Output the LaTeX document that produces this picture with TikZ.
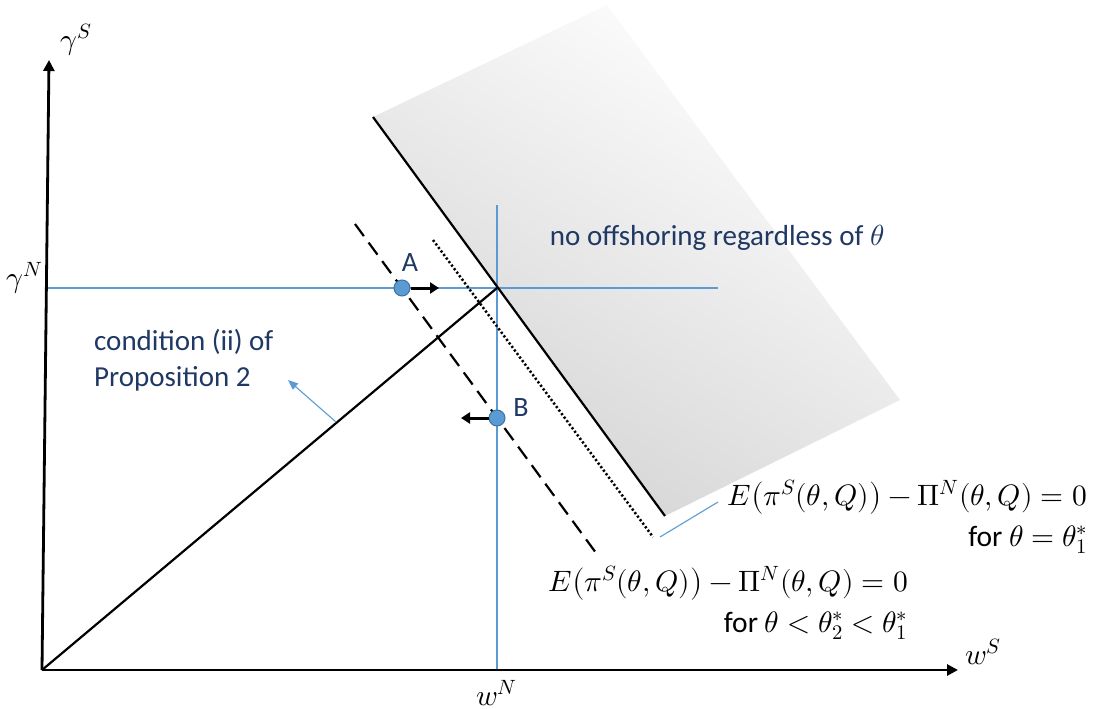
\documentclass[tikz,border=0pt]{standalone}
\usepackage{fontspec}
\usepackage{unicode-math}
\setmainfont{Carlito}
\usetikzlibrary{arrows.meta}
\definecolor{lblue}{HTML}{5B9BD5}
\definecolor{dblue}{HTML}{1F3864}
\definecolor{cedge}{HTML}{41719C}
\tikzset{
 axisline/.style={line width=2.8pt,-{Triangle[length=11pt,width=11pt]}},
 guide/.style={lblue, line width=1.1pt},
 mainline/.style={line width=2.2pt},
 dashline/.style={line width=2.2pt, dash pattern=on 15pt off 8pt},
 dotline/.style={line width=2.5pt, dash pattern=on 2.2pt off 2.2pt},
 dotpt/.style={circle, fill=lblue, draw=cedge, line width=1pt, minimum size=16pt, inner sep=0pt},
 move/.style={line width=3pt, -{Triangle[length=9pt,width=11pt]}},
 pointer/.style={lblue, line width=1.1pt, -{Triangle[length=10pt,width=8pt]}},
 lbl/.style={text=dblue, font=\fontsize{29}{36}\selectfont, inner sep=0pt},
 ptlbl/.style={text=dblue, font=\fontsize{28}{30}\selectfont, inner sep=0pt},
 mlbl/.style={font=\fontsize{29.5}{34}\selectfont, inner sep=0pt},
}
\begin{document}
\begin{tikzpicture}[x=1pt,y=-1pt]
\useasboundingbox (0,0) rectangle (1097,709);
% shaded region
\shade[top color=white, middle color=black!4, bottom color=black!17, shading angle=-32]
  (373,117) -- (607,5) -- (900,400) -- (665,516) -- cycle;
% coordinates
\coordinate (O) at (42,670);
\coordinate (Ytop) at (49,60);
\coordinate (Xend) at (958,670);
\coordinate (P) at (497,288);
\coordinate (Hl) at (46,288);
\coordinate (Hr) at (718,288);
\coordinate (Vt) at (497,205);
\coordinate (Vb) at (497,670);
\coordinate (S1) at (373,117);
\coordinate (S2) at (665,516);
\coordinate (D1) at (433,240);
\coordinate (D2) at (653,537);
\coordinate (K1) at (355,224);
\coordinate (K2) at (599,557);
\coordinate (tail) at (336,422);
\coordinate (head) at (288,380);
\coordinate (c1) at (660,537);
\coordinate (c2) at (718,502);
% guides
\draw[guide] (Hl) -- (Hr);
\draw[guide] (Vt) -- (Vb);
% lines
\draw[mainline] (O) -- (P);
\draw[mainline] (S1) -- (S2);
\draw[dotline] (D1) -- (D2);
\draw[dashline] (K1) -- (K2);
% axes
\draw[axisline] (O) -- (Ytop);
\draw[axisline] (O) -- (Xend);
% points
\node[dotpt] (A) at (402,288) {};
\node[dotpt] (B) at (497,418) {};
\coordinate (Atip) at (439,288);
\coordinate (Btip) at (461,418);
\draw[move] (A.east) -- (Atip);
\draw[move] (B.west) -- (Btip);
\node[ptlbl] (Alab) at (410,263) {A};
\node[ptlbl] (Blab) at (521,408) {B};
% pointers
\draw[pointer] (tail) -- (head);
\draw[guide] (c1) -- (c2);
% labels
\node[lbl, anchor=base] (nooff) at (717,245) {no offshoring regardless of $\theta$};
\node[lbl, anchor=north west, align=left] (cond) at (94,329) {condition (ii) of\\Proposition 2};
\node[mlbl] (gS) at (76,40) {$\gamma^S$};
\node[mlbl] (gN) at (25,278) {$\gamma^N$};
\node[mlbl] (wS) at (983,652) {$w^S$};
\node[mlbl] (wN) at (497,693) {$w^N$};
\node[mlbl, anchor=base east] (eq1) at (1087,505) {$E\bigl(\pi^S(\theta,Q)\bigr)-\Pi^N(\theta,Q)=0$};
\node[mlbl, anchor=base east] (eq1b) at (1088,546) {for $\theta=\theta_1^*$};
\node[mlbl, anchor=base east] (eq2) at (908,591) {$E\bigl(\pi^S(\theta,Q)\bigr)-\Pi^N(\theta,Q)=0$};
\node[mlbl, anchor=base east] (eq2b) at (908,632) {for $\theta<\theta_2^*<\theta_1^*$};
\end{tikzpicture}
\end{document}
